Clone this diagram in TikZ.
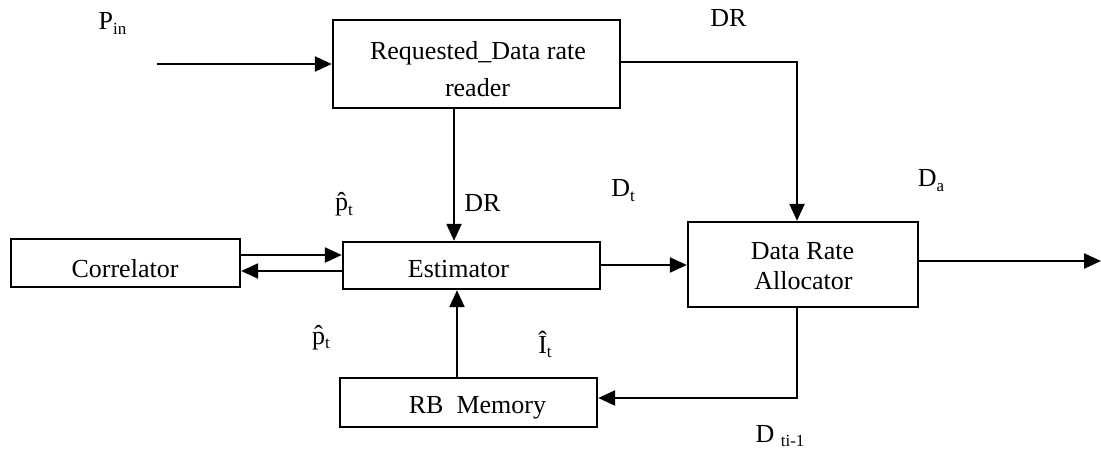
\documentclass[tikz,border=0pt]{standalone}
\usepackage{fontspec}
\setmainfont{Liberation Serif}
\usetikzlibrary{arrows.meta}
\newcommand\lsub[1]{\raisebox{-0.35ex}{\fontsize{17}{17}\selectfont #1}}
\begin{document}
\begin{tikzpicture}[x=1pt,y=-1pt,
  box/.style={draw,line width=2.4pt,rectangle,inner sep=0pt},
  lab/.style={inner sep=0pt,anchor=base,font=\fontsize{26}{30}\selectfont},
  conn/.style={line width=2.4pt,-{Triangle[length=17pt,width=15pt]}}]
\useasboundingbox (0,0) rectangle (1101,449);
\node[box,minimum width=287pt,minimum height=88pt] (req) at (476.5,64) {};
\node[box,minimum width=230pt,minimum height=85pt] (dra) at (803,264.5) {};
\node[box,minimum width=257pt,minimum height=47pt] (est) at (471.5,265.5) {};
\node[box,minimum width=229pt,minimum height=48pt] (cor) at (125.5,263) {};
\node[box,minimum width=257pt,minimum height=49pt] (rbm) at (468.5,402.5) {};
% box texts
\node[lab] (reqa) at (478,60) {Requested\_Data rate};
\node[lab] (reqb) at (477.5,97) {reader};
\node[lab] (draa) at (802.5,260) {Data Rate};
\node[lab] (drab) at (803.5,290) {Allocator};
\node[lab] (esttext) at (458.5,278) {Estimator};
\node[lab] (cortext) at (125,277) {Correlator};
\node[lab] (rbmtext) at (477.5,413) {RB\ \ Memory};
% helper coordinates
\coordinate (pin) at (157,64);
\coordinate (out) at (1101,261);
\coordinate (xa) at (797,0);
\coordinate (xb) at (454,0);
\coordinate (xc) at (457,0);
\coordinate (yturn) at (0,398);
\coordinate (y1) at (0,255);
\coordinate (y2) at (0,271);
\coordinate (y3) at (0,62);
\coordinate (y4) at (0,265);
% connectors
\draw[conn] (pin) -- (req.west |- pin);
\draw[conn] (req.east |- y3) -- (xa |- y3) -- (xa |- dra.north);
\draw[conn] (xb |- req.south) -- (xb |- est.north);
\draw[conn] (est.east |- y4) -- (dra.west |- y4);
\draw[conn] (cor.east |- y1) -- (est.west |- y1);
\draw[conn] (est.west |- y2) -- (cor.east |- y2);
\draw[conn] (xc |- rbm.north) -- (xc |- est.south);
\draw[conn] (xa |- dra.south) -- (xa |- yturn) -- (rbm.east |- yturn);
\draw[conn] (dra.east |- out) -- (out);
% labels
\node[lab] (lpin) at (112.5,30) {P\lsub{in}};
\node[lab] (ldr1) at (728.5,27) {DR};
\node[lab] (ldr2) at (482.5,212) {DR};
\node[lab] (ldt) at (623,197) {D\lsub{t}};
\node[lab] (lda) at (931,187) {D\lsub{a}};
\node[lab] (lp1) at (344,211) {\^{p}\lsub{t}};
\node[lab] (lp2) at (321,344) {\^{p}\lsub{t}};
\node[lab] (lit) at (545,353) {\^{I}\lsub{t}};
\node[lab] (ldti) at (780,442) {D \lsub{ti-1}};
\end{tikzpicture}
\end{document}
